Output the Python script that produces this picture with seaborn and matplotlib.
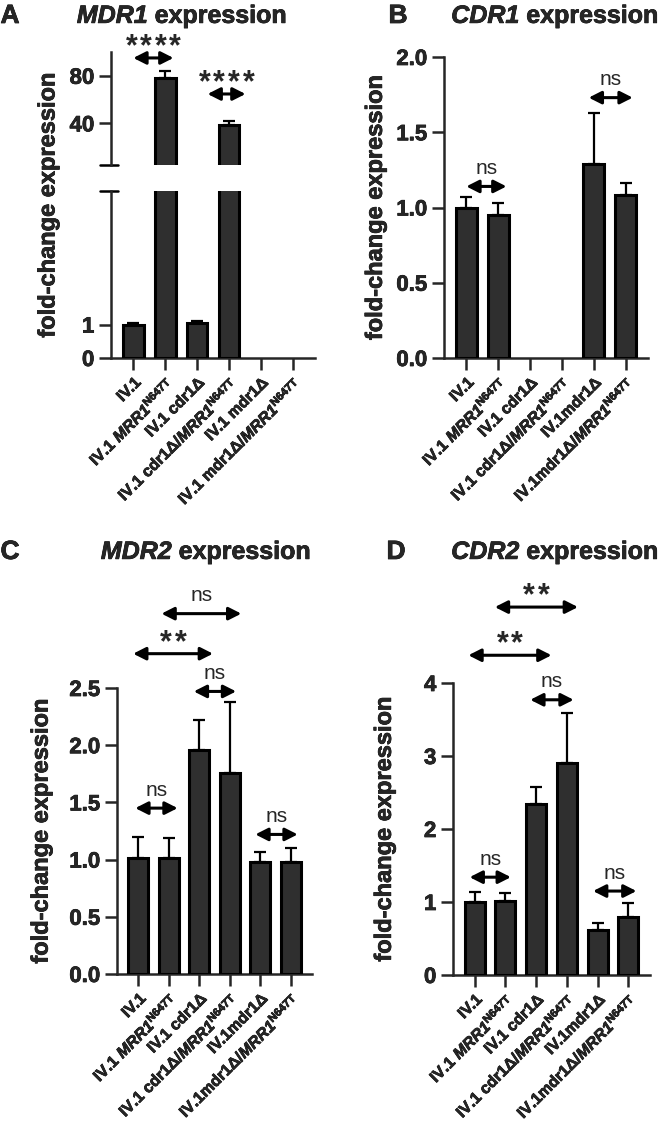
import numpy as np
import pandas as pd
import matplotlib
matplotlib.use("Agg")
import matplotlib.pyplot as plt
import matplotlib.patheffects as pe
import seaborn as sns

# === DADOS ===
groups = ["g1", "g2", "g3", "g4", "g5", "g6"]

labels_a = [
    "IV.1",
    r"IV.1 $\mathrm{MRR1}^{\mathbf{N647T}}$",
    "IV.1 cdr1Δ",
    r"IV.1 cdr1Δ/$\mathrm{MRR1}^{\mathbf{N647T}}$",
    "IV.1 mdr1Δ",
    r"IV.1 mdr1Δ/$\mathrm{MRR1}^{\mathbf{N647T}}$",
]
labels_bcd = [
    "IV.1",
    r"IV.1 $\mathrm{MRR1}^{\mathbf{N647T}}$",
    "IV.1 cdr1Δ",
    r"IV.1 cdr1Δ/$\mathrm{MRR1}^{\mathbf{N647T}}$",
    "IV.1mdr1Δ",
    r"IV.1mdr1Δ/$\mathrm{MRR1}^{\mathbf{N647T}}$",
]

mdr1_mean = [1.0, 78.5, 1.06, 38.5, np.nan, np.nan]
mdr1_err = [0.06, 5.5, 0.06, 3.2, np.nan, np.nan]
cdr1_mean = [1.0, 0.95, np.nan, np.nan, 1.29, 1.08]
cdr1_err = [0.07, 0.08, np.nan, np.nan, 0.34, 0.08]
mdr2_mean = [1.01, 1.01, 1.96, 1.76, 0.98, 0.98]
mdr2_err = [0.19, 0.18, 0.26, 0.62, 0.09, 0.12]
cdr2_mean = [1.0, 1.02, 2.34, 2.90, 0.62, 0.80]
cdr2_err = [0.14, 0.10, 0.24, 0.69, 0.09, 0.18]

# comparacoes: (x inicio, x fim, y, texto)
sig_a = [(0.0, 1.26, 95, "****"), (2.33, 3.52, 64.7, "****")]
sig_b = [(0.0, 1.26, 1.14, "ns"), (3.84, 5.22, 1.73, "ns")]
sig_c = [(0.76, 3.38, 3.15, "ns"), (-0.17, 2.45, 2.80, "**"),
         (1.82, 3.21, 2.47, "ns"), (-0.10, 1.29, 1.45, "ns"),
         (3.84, 5.23, 1.22, "ns")]
sig_d = [(0.66, 3.36, 5.04, "**"), (-0.20, 2.50, 4.38, "**"),
         (1.81, 3.22, 3.77, "ns"), (-0.16, 1.18, 1.34, "ns"),
         (3.85, 5.26, 1.15, "ns")]

# === ESTILO ===
sns.set_style("ticks")
plt.rcParams["font.family"] = ["Liberation Sans", "DejaVu Sans"]
plt.rcParams["font.weight"] = "bold"
plt.rcParams["mathtext.fontset"] = "custom"
# nomes de genes em italico (inclusive os digitos), sobrescrito em negrito normal
plt.rcParams["mathtext.rm"] = "Liberation Sans:italic:bold"
plt.rcParams["mathtext.it"] = "Liberation Sans:italic:bold"
plt.rcParams["mathtext.bf"] = "Liberation Sans:bold"

W, H = 666, 1121
BAR = "#2f2f2f"
LW = 1.8

fig = plt.figure(figsize=(W / 100, H / 100), dpi=100)


def add_ax(left, top, right, bottom):
    return fig.add_axes([left / W, 1 - bottom / H, (right - left) / W, (bottom - top) / H])


def draw_bars(ax, mean, err):
    df = pd.DataFrame({"group": groups, "value": mean, "err": err}).dropna()
    sns.barplot(data=df, x="group", y="value", order=groups, color=BAR,
                saturation=1, edgecolor="black", linewidth=2.2, width=0.65,
                errorbar=None, ax=ax, zorder=3)
    xs = [groups.index(g) for g in df["group"]]
    ax.errorbar(xs, df["value"], yerr=[np.zeros(len(df)), df["err"]], fmt="none",
                ecolor="black", elinewidth=1.6, capsize=4, capthick=1.6, zorder=2)
    ax.set_xlim(-0.7, 5.7)
    ax.set_xlabel("")
    ax.set_ylabel("")


def style_ax(ax, labels):
    sns.despine(ax=ax)
    for s in ["left", "bottom"]:
        ax.spines[s].set_linewidth(LW)
    ax.tick_params(axis="both", width=LW, length=8.5, labelsize=16)
    ax.set_xticks(range(len(groups)))
    ax.set_xticklabels(labels, rotation=45, ha="right", rotation_mode="anchor",
                       fontsize=11.5, fontweight="bold")
    for t in ax.get_yticklabels():
        t.set_fontweight("bold")


def draw_sig(ax, sigs):
    for x0, x1, y, txt in sigs:
        ax.annotate("", xy=(x1, y), xytext=(x0, y), annotation_clip=False,
                    arrowprops=dict(arrowstyle="<|-|>,head_length=0.75,head_width=0.38",
                                    lw=2.2, color="black", shrinkA=0, shrinkB=0,
                                    mutation_scale=10))
        xm = (x0 + x1) / 2
        if txt == "ns":
            ax.annotate(txt, xy=(xm, y), xytext=(0, 9), textcoords="offset points",
                        ha="center", va="baseline", fontsize=15, fontweight="normal",
                        annotation_clip=False)
        else:
            # asteriscos espacados, um por um
            n = len(txt)
            for k in range(n):
                ax.annotate("*", xy=(xm, y), xytext=((k - (n - 1) / 2) * 10.5, 2),
                            textcoords="offset points", ha="center", va="baseline",
                            fontsize=22, fontweight="bold", annotation_clip=False)


# --- A: MDR1 (eixo quebrado)
ax_a_low = add_ax(111, 191, 315, 358)
ax_a_up = add_ax(111, 52, 315, 165)
draw_bars(ax_a_low, mdr1_mean, mdr1_err)
draw_bars(ax_a_up, mdr1_mean, mdr1_err)
ax_a_low.set_ylim(0, 5)
ax_a_low.set_yticks([0, 1])
style_ax(ax_a_low, labels_a)
ax_a_up.set_ylim(5, 100)
ax_a_up.set_yticks([40, 80])
style_ax(ax_a_up, labels_a)
ax_a_up.spines["bottom"].set_visible(False)
ax_a_up.tick_params(axis="x", bottom=False, labelbottom=False)
ax_a_up.plot([-0.055, 0.035], [0, 0], transform=ax_a_up.transAxes, color="black",
             lw=LW, clip_on=False)
ax_a_low.plot([-0.055, 0.035], [1, 1], transform=ax_a_low.transAxes, color="black",
              lw=LW, clip_on=False)
draw_sig(ax_a_up, sig_a)
fig.text(48 / W, 1 - 205 / H, "fold-change expression", rotation=90, ha="center",
         va="center", fontsize=17, fontweight="bold")

# --- B: CDR1
ax_b = add_ax(444, 57, 648, 358)
draw_bars(ax_b, cdr1_mean, cdr1_err)
ax_b.set_ylim(0, 2.0)
ax_b.set_yticks([0, 0.5, 1.0, 1.5, 2.0])
ax_b.set_yticklabels(["0.0", "0.5", "1.0", "1.5", "2.0"])
style_ax(ax_b, labels_bcd)
draw_sig(ax_b, sig_b)

# --- C: MDR2
ax_c = add_ax(117, 688, 312, 974)
draw_bars(ax_c, mdr2_mean, mdr2_err)
ax_c.set_ylim(0, 2.5)
ax_c.set_yticks([0, 0.5, 1.0, 1.5, 2.0, 2.5])
ax_c.set_yticklabels(["0.0", "0.5", "1.0", "1.5", "2.0", "2.5"])
style_ax(ax_c, labels_bcd)
draw_sig(ax_c, sig_c)

# --- D: CDR2
ax_d = add_ax(453, 683, 650, 975)
draw_bars(ax_d, cdr2_mean, cdr2_err)
ax_d.set_ylim(0, 4)
ax_d.set_yticks([0, 1, 2, 3, 4])
style_ax(ax_d, labels_bcd)
draw_sig(ax_d, sig_d)

for ax, xc in [(ax_b, -0.28), (ax_c, -0.33), (ax_d, -0.29)]:
    ax.set_ylabel("fold-change expression", fontsize=17, fontweight="bold")
    ax.yaxis.set_label_coords(xc, 0.5)

# --- titulos e letras dos paineis
titles = [("A", 10, 16, r"$\mathrm{MDR1}$ expression", 182),
          ("B", 398, 16, r"$\mathrm{CDR1}$ expression", 555),
          ("C", 10, 552, r"$\mathrm{MDR2}$ expression", 206),
          ("D", 396, 552, r"$\mathrm{CDR2}$ expression", 555)]
for letter, lx, y, title, tx in titles:
    fig.text(lx / W, 1 - y / H, letter, ha="center", va="center", fontsize=19,
             fontweight="bold")
    fig.text(tx / W, 1 - y / H, title, ha="center", va="center", fontsize=18,
             fontweight="bold")

# texto mais "pesado", como no original (menos nos asteriscos)
heavy = [pe.withStroke(linewidth=0.5, foreground="black")]
for t in fig.findobj(matplotlib.text.Text):
    if t.get_fontweight() == "bold" and t.get_text() and t.get_text() != "*":
        t.set_path_effects(heavy)

fig.savefig("out.png", dpi=100)
